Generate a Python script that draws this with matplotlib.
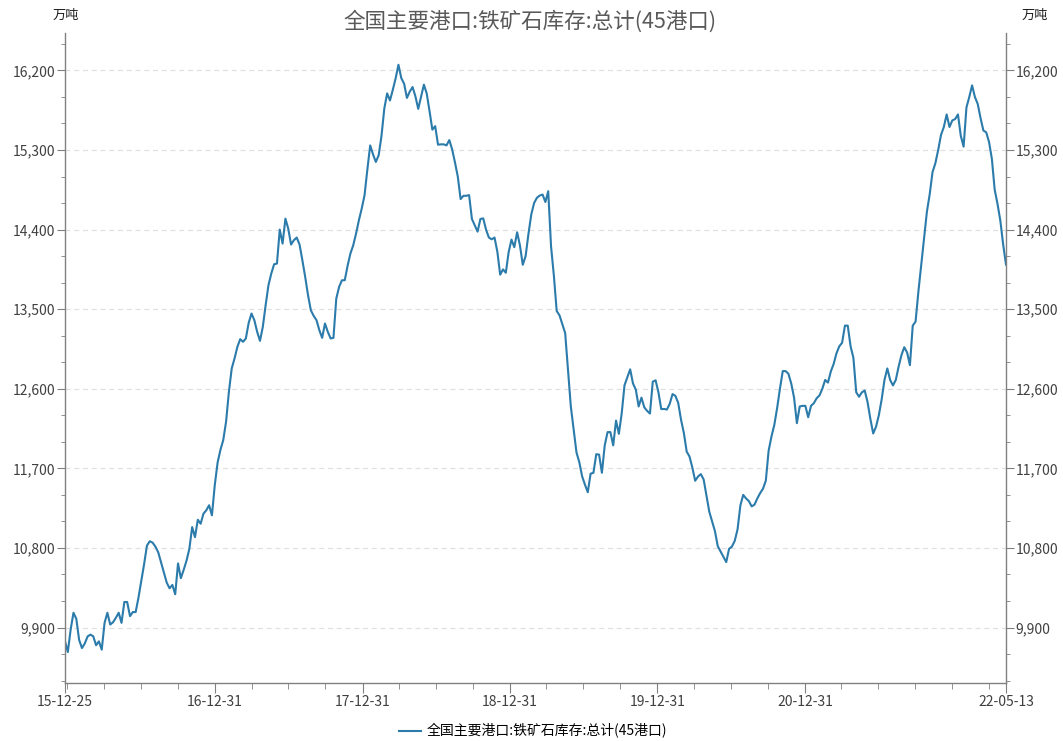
import numpy as np
import pandas as pd
import matplotlib
matplotlib.use('Agg')
import matplotlib.pyplot as plt
import matplotlib.dates as mdates
from matplotlib.ticker import FixedLocator, FuncFormatter

plt.rcParams['font.family'] = ['Noto Sans CJK SC', 'DejaVu Sans']

title = '全国主要港口:铁矿石库存:总计(45港口)'
unit = '万吨'
start_date = '2015-12-25'
# 周度库存(万吨), 15-12-25 至 22-05-13
stock = [
    9744, 9623, 9877, 10067, 9999, 9760, 9668, 9720, 9800, 9820,
    9801, 9700, 9744, 9650, 9953, 10067, 9934, 9960, 10010, 10067,
    9953, 10189, 10189, 10029, 10075, 10075, 10238, 10428, 10618, 10827,
    10876, 10860, 10815, 10750, 10636, 10520, 10408, 10344, 10382, 10276,
    10625, 10458, 10553, 10656, 10789, 11036, 10922, 11119, 11074, 11188,
    11226, 11283, 11169, 11510, 11765, 11909, 12020, 12227, 12566, 12830,
    12943, 13074, 13161, 13131, 13169, 13345, 13451, 13376, 13244, 13142,
    13300, 13545, 13771, 13903, 14008, 14016, 14400, 14242, 14524, 14411,
    14231, 14280, 14310, 14231, 14053, 13865, 13658, 13488, 13424, 13376,
    13263, 13176, 13338, 13244, 13169, 13176, 13620, 13752, 13827, 13827,
    13990, 14129, 14223, 14355, 14505, 14637, 14788, 15080, 15352, 15251,
    15165, 15240, 15460, 15770, 15940, 15860, 15980, 16110, 16264, 16114,
    16050, 15889, 15960, 16012, 15907, 15765, 15900, 16039, 15940, 15740,
    15530, 15570, 15360, 15364, 15364, 15352, 15412, 15307, 15160, 15000,
    14745, 14782, 14782, 14790, 14520, 14450, 14377, 14520, 14527, 14400,
    14310, 14290, 14310, 14150, 13890, 13950, 13912, 14145, 14287, 14201,
    14370, 14220, 14002, 14100, 14350, 14570, 14700, 14760, 14785, 14796,
    14712, 14834, 14211, 13880, 13480, 13430, 13330, 13230, 12820, 12400,
    12140, 11880, 11770, 11610, 11516, 11430, 11640, 11650, 11860, 11856,
    11650, 11960, 12110, 12110, 11960, 12240, 12090, 12320, 12640, 12730,
    12820, 12660, 12590, 12400, 12500, 12390, 12350, 12320, 12680, 12696,
    12560, 12370, 12372, 12365, 12430, 12540, 12520, 12440, 12250, 12100,
    11890, 11834, 11710, 11560, 11607, 11635, 11575, 11390, 11210, 11100,
    10990, 10820, 10760, 10700, 10640, 10790, 10815, 10880, 11010, 11280,
    11400, 11360, 11330, 11270, 11290, 11360, 11420, 11470, 11560, 11900,
    12060, 12190, 12380, 12600, 12800, 12800, 12770, 12660, 12500, 12211,
    12400, 12407, 12407, 12278, 12407, 12437, 12493, 12525, 12600, 12700,
    12670, 12795, 12880, 13000, 13080, 13120, 13314, 13314, 13080, 12950,
    12560, 12510, 12560, 12580, 12450, 12260, 12095, 12170, 12300, 12480,
    12700, 12830, 12700, 12638, 12700, 12850, 12980, 13070, 13010, 12867,
    13314, 13360, 13700, 14000, 14300, 14600, 14800, 15050, 15150, 15300,
    15470, 15560, 15702, 15560, 15634, 15650, 15702, 15460, 15338, 15780,
    15899, 16031, 15899, 15820, 15660, 15520, 15500, 15390, 15200, 14850,
    14690, 14500, 14230, 14004,
]
ytick_vals = [9900, 10800, 11700, 12600, 13500, 14400, 15300, 16200]
xlabel_dates = ['2015-12-25', '2016-12-31', '2017-12-31', '2018-12-31',
                '2019-12-31', '2020-12-31', '2022-05-13']

dates = pd.date_range(start_date, periods=len(stock), freq='7D')

fig = plt.figure(figsize=(10.63, 7.41), dpi=100)
ax = fig.add_axes([65/1063, 1-683/741, 941/1063, 650/741])

line_color = '#2b7bab'
ax.plot(dates, stock, color=line_color, lw=1.5, label=title)

ax.set_xlim(dates[0], dates[-1])
ax.set_ylim(9273, 16623)

# y axis
ax.yaxis.set_major_locator(FixedLocator(ytick_vals))
ax.yaxis.set_minor_locator(FixedLocator(np.arange(9300, 16601, 300)))
ax.yaxis.set_major_formatter(FuncFormatter(lambda v, p: f'{int(v):,}'))
ax.tick_params(axis='y', which='both', left=True, right=True,
               labelleft=True, labelright=True, direction='out',
               colors='#808080', labelcolor='#404040', labelsize=10, pad=1)
ax.tick_params(axis='y', which='major', length=6)
ax.tick_params(axis='y', which='minor', length=3)
ax.grid(axis='y', which='major', color='#e0e0e0', ls=(0, (4, 3)), lw=0.9)

# x axis
xl = pd.to_datetime(xlabel_dates)
quarters = pd.date_range('2015-12-31', '2022-03-31', freq='QE')
minor = [d for d in quarters if d not in set(xl)]
ax.xaxis.set_major_locator(FixedLocator(mdates.date2num(xl)))
ax.xaxis.set_minor_locator(FixedLocator(mdates.date2num(minor)))
ax.xaxis.set_major_formatter(mdates.DateFormatter('%y-%m-%d'))
ax.tick_params(axis='x', which='both', direction='out', colors='#808080',
               labelcolor='#404040', labelsize=10, pad=2)
ax.tick_params(axis='x', which='major', length=7)
ax.tick_params(axis='x', which='minor', length=4)

for s in ['left', 'right', 'bottom']:
    ax.spines[s].set_color('#808080')
    ax.spines[s].set_linewidth(1)
ax.spines['top'].set_visible(False)

fig.text(530/1063, 1-22/741, title, ha='center', va='center',
         fontsize=15.5, color='#595959')
fig.text(66/1063, 1-15/741, unit, ha='center', va='center', fontsize=9.5, color='#202020')
fig.text(1035/1063, 1-15/741, unit, ha='center', va='center', fontsize=9.5, color='#202020')

fig.legend(loc='center', bbox_to_anchor=(533/1063, 1-731/741), frameon=False,
           fontsize=10, handlelength=1.6, handletextpad=0.4)

fig.savefig('out.png', dpi=100)
